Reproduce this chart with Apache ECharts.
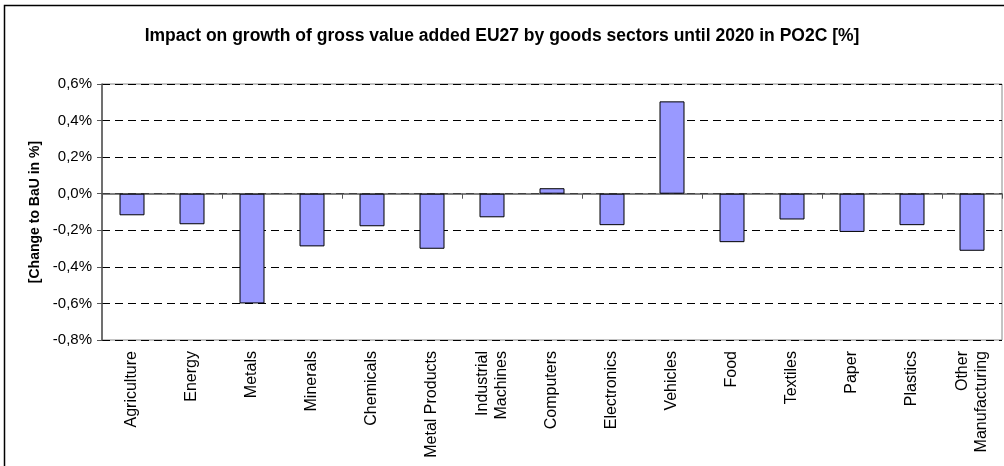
<!DOCTYPE html>
<html><head><meta charset="utf-8">
<script src="https://cdn.jsdelivr.net/npm/echarts@6/dist/echarts.min.js"></script>
<style>html,body{margin:0;padding:0;background:#fff}#c{width:1004px;height:466px}</style>
</head><body><div id="c"></div>
<script>
const categories = ['Agriculture','Energy','Metals','Minerals','Chemicals','Metal Products','Industrial\nMachines','Computers','Electronics','Vehicles','Food','Textiles','Paper','Plastics','Other\nManufacturing'];
const values = [-0.118,-0.167,-0.600,-0.288,-0.178,-0.301,-0.129,0.030,-0.172,0.505,-0.265,-0.141,-0.209,-0.172,-0.312];
const yTicks = {min:-0.8, max:0.6, interval:0.2};
const titleText = 'Impact on growth of gross value added EU27 by goods sectors until 2020 in PO2C [%]';
const yName = '[Change to BaU in %]';

const chart = echarts.init(document.getElementById('c'), null, {renderer:'canvas'});
chart.setOption({
  animation:false,
  textStyle:{fontFamily:'Liberation Sans, Arial, sans-serif'},
  title:{text:titleText,left:'center',top:22,textStyle:{fontSize:17.5,fontWeight:'bold',color:'#000',fontFamily:'Liberation Sans, Arial, sans-serif'}},
  graphic:[{type:'rect',shape:{x:4.5,y:5.5,width:1100,height:600},style:{fill:'none',stroke:'#000',lineWidth:1.5},silent:true}],
  grid:{left:102,right:2,top:84,bottom:126,show:true,borderColor:'#888',borderWidth:1},
  xAxis:[
    {type:'category',data:categories,position:'bottom',axisLine:{show:false,onZero:false},axisTick:{show:false},
     axisLabel:{rotate:90,interval:0,fontSize:16,color:'#000',margin:11,lineHeight:19}},
    {type:'category',data:categories,position:'top',axisLine:{show:true,onZero:true,lineStyle:{color:'#555',width:1.5}},
     axisTick:{show:true,inside:true,length:5,lineStyle:{color:'#555'}},axisLabel:{show:false}}
  ],
  yAxis:{type:'value',min:yTicks.min,max:yTicks.max,interval:yTicks.interval,
    name:yName,nameLocation:'middle',nameGap:56,nameTextStyle:{fontSize:14,fontWeight:'bold',color:'#000'},
    axisLine:{show:true,lineStyle:{color:'#555',width:1.5}},
    axisTick:{show:true,length:5,lineStyle:{color:'#555'}},
    axisLabel:{fontSize:15,color:'#000',margin:10,formatter:v=>{const s=(Math.abs(v)<1e-9?0:v).toFixed(1).replace('.',',');return s+'%';}},
    splitLine:{show:true,lineStyle:{color:'#000',type:[8,5],width:1}}},
  series:[{type:'bar',data:values,xAxisIndex:0,barWidth:25,
    itemStyle:{color:'#9999ff',borderColor:'#000',borderWidth:1}}]
});
</script></body></html>
